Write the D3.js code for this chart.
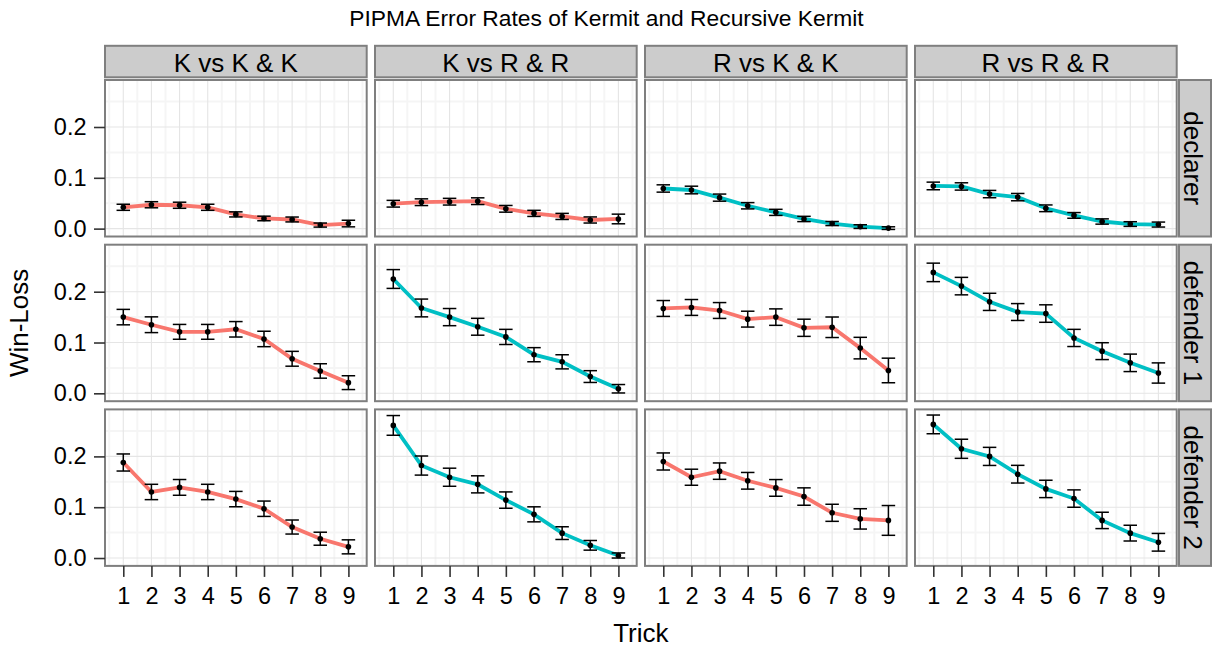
<!DOCTYPE html>
<html>
<head>
<meta charset="utf-8">
<script src="https://cdnjs.cloudflare.com/ajax/libs/d3/7.8.5/d3.min.js"></script>
<style>
	body { margin: 0; background: #fff; }
	svg text { font-family: "Liberation Sans", Arial, Helvetica, sans-serif; fill: #000; }
	.axis path.domain { display: none; }
	.axis line { stroke: #333; stroke-width: 1.6; }
</style>
</head>
<body>
<div id="chart"></div>
<script>
var tricks = [1, 2, 3, 4, 5, 6, 7, 8, 9];
var matchups = ["K vs K & K", "K vs R & R", "R vs K & K", "R vs R & R"];
var roles = ["declarer", "defender 1", "defender 2"];
var yTicks = [0.0, 0.1, 0.2];

// win-loss per trick, one row per matchup (same order as matchups)
var declarerRate = [
	[0.042, 0.047, 0.046, 0.042, 0.028, 0.020, 0.018, 0.007, 0.010],
	[0.049, 0.052, 0.053, 0.054, 0.039, 0.030, 0.024, 0.017, 0.019],
	[0.079, 0.076, 0.061, 0.045, 0.032, 0.019, 0.010, 0.004, 0.001],
	[0.084, 0.083, 0.068, 0.062, 0.040, 0.026, 0.014, 0.009, 0.008]
];
var declarerErr = [
	[0.006, 0.006, 0.006, 0.006, 0.005, 0.0045, 0.0048, 0.004, 0.0065],
	[0.0066, 0.0066, 0.0066, 0.0066, 0.0066, 0.006, 0.006, 0.006, 0.0095],
	[0.0072, 0.0075, 0.007, 0.0062, 0.006, 0.0052, 0.004, 0.0036, 0.0026],
	[0.0075, 0.0072, 0.0072, 0.0072, 0.0066, 0.0056, 0.0052, 0.0046, 0.0049]
];
var defender1Rate = [
	[0.150, 0.135, 0.121, 0.121, 0.126, 0.107, 0.068, 0.044, 0.021],
	[0.225, 0.168, 0.150, 0.131, 0.111, 0.076, 0.062, 0.033, 0.009],
	[0.167, 0.169, 0.163, 0.146, 0.150, 0.129, 0.130, 0.089, 0.045],
	[0.238, 0.211, 0.180, 0.160, 0.157, 0.109, 0.083, 0.060, 0.040]
];
var defender1Err = [
	[0.0152, 0.0155, 0.0146, 0.0146, 0.0152, 0.0152, 0.0146, 0.0142, 0.0136],
	[0.0185, 0.0175, 0.0169, 0.0166, 0.0149, 0.0139, 0.0139, 0.0116, 0.0083],
	[0.0156, 0.0156, 0.0156, 0.0156, 0.0162, 0.0169, 0.0202, 0.0212, 0.0242],
	[0.0182, 0.0172, 0.0169, 0.0166, 0.0172, 0.0169, 0.0166, 0.0172, 0.0199]
];
var defender2Rate = [
	[0.188, 0.130, 0.139, 0.130, 0.116, 0.097, 0.061, 0.038, 0.022],
	[0.261, 0.182, 0.159, 0.145, 0.114, 0.086, 0.049, 0.025, 0.005],
	[0.190, 0.159, 0.171, 0.152, 0.138, 0.121, 0.089, 0.077, 0.074],
	[0.263, 0.215, 0.200, 0.165, 0.136, 0.117, 0.074, 0.049, 0.031]
];
var defender2Err = [
	[0.0168, 0.0151, 0.0155, 0.0151, 0.0151, 0.0151, 0.0138, 0.0128, 0.0138],
	[0.0194, 0.0188, 0.0178, 0.0168, 0.0161, 0.0148, 0.0125, 0.0095, 0.005],
	[0.0168, 0.0158, 0.0161, 0.0164, 0.0164, 0.0171, 0.0168, 0.020, 0.0293],
	[0.0184, 0.0188, 0.0178, 0.0174, 0.0171, 0.0171, 0.0161, 0.0155, 0.0174]
];

var rates = [declarerRate, defender1Rate, defender2Rate];
var errs = [declarerErr, defender1Err, defender2Err];

// colour by which agent plays the role: K = kermit, R = recursive kermit
var agentColour = {K: "#F8766D", R: "#00BFC4"};

var width = 1213, height = 648;

// panel grid
var panelLeft = 105, panelTop = 80;
var panelW = 261.7, panelH = 156.5;
var gapX = 8.3, gapY = 8.2;
var stripH = 31.5;

var svg = d3.select("#chart").append("svg")
	.attr("width", width)
	.attr("height", height);

// set the ranges
var x = d3.scaleLinear().domain([0.35, 9.65]).range([0, panelW]);
var y = d3.scaleLinear().domain([-0.0155, 0.2925]).range([panelH, 0]);

var line = d3.line()
	.x(function (d) { return x(d.trick); })
	.y(function (d) { return y(d.value); });

var minorX = d3.range(0.5, 10, 1);
var minorY = [0.05, 0.15, 0.25];

function agentFor(matchup, role) {
	var parts = matchup.split(" vs ");
	return role == "declarer" ? parts[0] : parts[1].charAt(0);
}

roles.forEach(function (role, ri) {
	matchups.forEach(function (matchup, ci) {
		var g = svg.append("g")
			.attr("transform", "translate(" + (panelLeft + ci * (panelW + gapX)) + "," + (panelTop + ri * (panelH + gapY)) + ")");

		var data = tricks.map(function (t, i) {
			return {trick: t, value: rates[ri][ci][i], err: errs[ri][ci][i]};
		});

		g.append("rect")
			.attr("width", panelW)
			.attr("height", panelH)
			.attr("fill", "#fff");

		// minor grid
		g.selectAll("line.minor-x").data(minorX.filter(function (d) { return x(d) > 0 && x(d) < panelW; }))
			.enter().append("line")
			.attr("x1", function (d) { return x(d); }).attr("x2", function (d) { return x(d); })
			.attr("y1", 0).attr("y2", panelH)
			.attr("stroke", "#f5f5f5").attr("stroke-width", 2);
		g.selectAll("line.minor-y").data(minorY)
			.enter().append("line")
			.attr("y1", function (d) { return y(d); }).attr("y2", function (d) { return y(d); })
			.attr("x1", 0).attr("x2", panelW)
			.attr("stroke", "#f5f5f5").attr("stroke-width", 2);

		// major grid
		g.selectAll("line.major-x").data(tricks)
			.enter().append("line")
			.attr("x1", function (d) { return x(d); }).attr("x2", function (d) { return x(d); })
			.attr("y1", 0).attr("y2", panelH)
			.attr("stroke", "#e5e5e5").attr("stroke-width", 1.1);
		g.selectAll("line.major-y").data(yTicks)
			.enter().append("line")
			.attr("y1", function (d) { return y(d); }).attr("y2", function (d) { return y(d); })
			.attr("x1", 0).attr("x2", panelW)
			.attr("stroke", "#e5e5e5").attr("stroke-width", 1.1);

		g.append("path")
			.datum(data)
			.attr("d", line)
			.attr("fill", "none")
			.attr("stroke", agentColour[agentFor(matchup, role)])
			.attr("stroke-width", 3.8);

		// error bars
		var eb = g.selectAll("g.errorbar").data(data).enter().append("g")
			.attr("stroke", "#000")
			.attr("stroke-width", 1.5);
		eb.append("line")
			.attr("x1", function (d) { return x(d.trick); }).attr("x2", function (d) { return x(d.trick); })
			.attr("y1", function (d) { return y(d.value - d.err); }).attr("y2", function (d) { return y(d.value + d.err); });
		eb.append("line")
			.attr("x1", function (d) { return x(d.trick - 0.24); }).attr("x2", function (d) { return x(d.trick + 0.24); })
			.attr("y1", function (d) { return y(d.value - d.err); }).attr("y2", function (d) { return y(d.value - d.err); });
		eb.append("line")
			.attr("x1", function (d) { return x(d.trick - 0.24); }).attr("x2", function (d) { return x(d.trick + 0.24); })
			.attr("y1", function (d) { return y(d.value + d.err); }).attr("y2", function (d) { return y(d.value + d.err); });

		g.selectAll("circle").data(data).enter().append("circle")
			.attr("cx", function (d) { return x(d.trick); })
			.attr("cy", function (d) { return y(d.value); })
			.attr("r", 2.8)
			.attr("fill", "#000");

		// panel border
		g.append("rect")
			.attr("width", panelW)
			.attr("height", panelH)
			.attr("fill", "none")
			.attr("stroke", "#7f7f7f")
			.attr("stroke-width", 2);

		// top strips
		if (ri == 0) {
			g.append("rect")
				.attr("y", -2.7 - stripH)
				.attr("width", panelW)
				.attr("height", stripH)
				.attr("fill", "#cccccc")
				.attr("stroke", "#7f7f7f")
				.attr("stroke-width", 2);
			g.append("text")
				.attr("x", panelW / 2)
				.attr("y", -8.3)
				.attr("text-anchor", "middle")
				.attr("font-size", "26px")
				.text(matchup);
		}

		// right strips
		if (ci == matchups.length - 1) {
			g.append("rect")
				.attr("x", panelW + 2.3)
				.attr("width", 32)
				.attr("height", panelH)
				.attr("fill", "#cccccc")
				.attr("stroke", "#7f7f7f")
				.attr("stroke-width", 2);
			g.append("text")
				.attr("transform", "translate(" + (panelW + 7.3) + "," + (panelH / 2) + ") rotate(90)")
				.attr("text-anchor", "middle")
				.attr("font-size", "26px")
				.text(role);
		}

		// y axis on first column
		if (ci == 0) {
			g.append("g")
				.attr("class", "axis")
				.call(d3.axisLeft(y).tickValues(yTicks).tickFormat(d3.format(".1f")).tickSize(11).tickPadding(7.5))
				.selectAll("text")
				.attr("font-size", "23.5px")
				.attr("fill", "#000");
		}

		// x axis on last row
		if (ri == roles.length - 1) {
			g.append("g")
				.attr("class", "axis")
				.attr("transform", "translate(0," + panelH + ")")
				.call(d3.axisBottom(x).tickValues(tricks).tickFormat(d3.format("d")).tickSize(11).tickPadding(10))
				.selectAll("text")
				.attr("font-size", "23.5px")
				.attr("fill", "#000");
		}
	});
});

var panelsRight = panelLeft + matchups.length * panelW + (matchups.length - 1) * gapX;
var panelsBottom = panelTop + roles.length * panelH + (roles.length - 1) * gapY;

// titles
svg.append("text")
	.attr("x", width / 2)
	.attr("y", 26)
	.attr("text-anchor", "middle")
	.attr("font-size", "22.8px")
	.text("PIPMA Error Rates of Kermit and Recursive Kermit");

svg.append("text")
	.attr("x", (panelLeft + panelsRight) / 2)
	.attr("y", 642)
	.attr("text-anchor", "middle")
	.attr("font-size", "26px")
	.text("Trick");

svg.append("text")
	.attr("transform", "translate(28.3," + ((panelTop + panelsBottom) / 2) + ") rotate(-90)")
	.attr("text-anchor", "middle")
	.attr("font-size", "26px")
	.text("Win-Loss");
</script>
</body>
</html>
